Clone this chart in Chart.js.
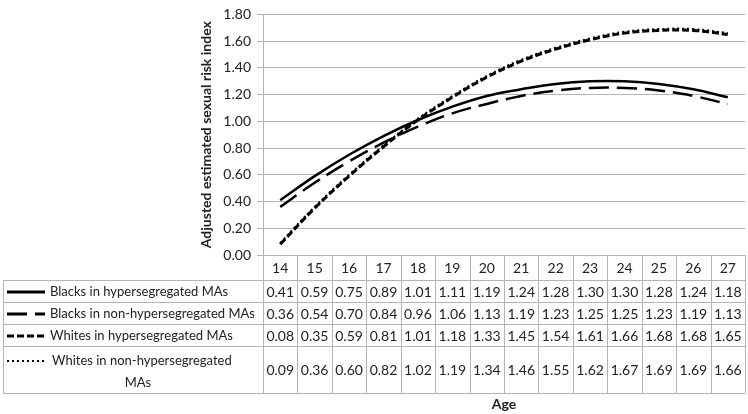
<!DOCTYPE html>
<html>
<head>
<meta charset="utf-8">
<script src="https://cdn.jsdelivr.net/npm/chart.js@4.4.1/dist/chart.umd.min.js"></script>
<style>
  html, body { margin: 0; padding: 0; background: #fff; }
  #wrap { width: 748px; height: 414px; position: relative; }
</style>
</head>
<body>
<div id="wrap"><canvas id="myChart"></canvas></div>
<script>
'use strict';

// ages along the bottom
const ages = ['14', '15', '16', '17', '18', '19', '20', '21', '22', '23', '24', '25', '26', '27'];
// series names (legend column of the table)
const seriesNames = ['Blacks in hypersegregated MAs', 'Blacks in non-hypersegregated MAs', 'Whites in hypersegregated MAs', 'Whites in non-hypersegregated MAs'];
const blacksHyper = [0.41, 0.59, 0.75, 0.89, 1.01, 1.11, 1.19, 1.24, 1.28, 1.30, 1.30, 1.28, 1.24, 1.18];
const blacksNonHyper = [0.36, 0.54, 0.70, 0.84, 0.96, 1.06, 1.13, 1.19, 1.23, 1.25, 1.25, 1.23, 1.19, 1.13];
const whitesHyper = [0.08, 0.35, 0.59, 0.81, 1.01, 1.18, 1.33, 1.45, 1.54, 1.61, 1.66, 1.68, 1.68, 1.65];
const whitesNonHyper = [0.09, 0.36, 0.60, 0.82, 1.02, 1.19, 1.34, 1.46, 1.55, 1.62, 1.67, 1.69, 1.69, 1.66];
// y axis ticks
const yMin = 0;
const yMax = 1.8;
const yStep = 0.2;

const allSeries = [blacksHyper, blacksNonHyper, whitesHyper, whitesNonHyper];
const dashes = [[], [20, 8], [7, 3], [2, 3]];
const widths = [2.5, 2.5, 3, 2];

const fontName = 'Lato, "Open Sans", sans-serif';
const gridColor = '#b4b4b4';

// draws the data table under the plot, using the x scale for the columns
const tablePlugin = {
  id: 'dataTable',
  afterDraw(chart) {
    const ctx = chart.ctx;
    const area = chart.chartArea;
    const x = chart.scales.x;
    const colW = x.getPixelForValue(1) - x.getPixelForValue(0);
    const tableLeft = 3;
    const top = area.bottom;
    const rowH = [25, 22, 22, 22, 47];
    let rowTops = [top];
    for (let i = 0; i < rowH.length; i++) rowTops.push(rowTops[i] + rowH[i]);
    const bottom = rowTops[rowTops.length - 1];

    ctx.save();
    ctx.strokeStyle = gridColor;
    ctx.lineWidth = 1;
    ctx.beginPath();
    // horizontal lines
    for (let r = 1; r < rowTops.length; r++) {
      ctx.moveTo(tableLeft, Math.round(rowTops[r]) + 0.5);
      ctx.lineTo(area.right, Math.round(rowTops[r]) + 0.5);
    }
    // vertical lines of the value columns
    for (let c = 0; c <= ages.length; c++) {
      const px = Math.round(area.left + c * colW) + 0.5;
      ctx.moveTo(px, top);
      ctx.lineTo(px, bottom);
    }
    // left edge of the legend column
    ctx.moveTo(tableLeft + 0.5, rowTops[1]);
    ctx.lineTo(tableLeft + 0.5, bottom);
    ctx.stroke();

    // legend font size: fit the longest name into the legend column
    ctx.font = '20px ' + fontName;
    const longest = ctx.measureText(seriesNames[1]).width;
    const legendSize = Math.min(15, 20 * 205 / longest);

    ctx.fillStyle = '#222';
    ctx.textAlign = 'center';
    ctx.textBaseline = 'middle';
    ctx.font = '14px ' + fontName;
    // header: ages
    for (let c = 0; c < ages.length; c++) {
      ctx.fillText(ages[c], x.getPixelForValue(c), (rowTops[0] + rowTops[1]) / 2 + 1);
    }
    // rows
    for (let s = 0; s < allSeries.length; s++) {
      const cy = (rowTops[s + 1] + rowTops[s + 2]) / 2 + 1;
      ctx.font = '14px ' + fontName;
      ctx.textAlign = 'center';
      for (let c = 0; c < ages.length; c++) {
        ctx.fillText(allSeries[s][c].toFixed(2), x.getPixelForValue(c), cy);
      }
      // legend sample
      let ly = cy;
      let name = seriesNames[s];
      let textX = 50;
      if (s === 3) {
        ly = cy - 10;
      }
      ctx.save();
      ctx.strokeStyle = '#000';
      ctx.lineWidth = s === 3 ? 2 : 3;
      ctx.setLineDash(dashes[s]);
      ctx.beginPath();
      ctx.moveTo(7, Math.round(ly));
      ctx.lineTo(45, Math.round(ly));
      ctx.stroke();
      ctx.restore();
      ctx.font = legendSize.toFixed(2) + 'px ' + fontName;
      ctx.textAlign = 'left';
      if (s === 3) {
        const words = name.split(' ');
        const last = words.pop();
        ctx.fillText(words.join(' '), textX + 2, cy - 10);
        ctx.textAlign = 'center';
        ctx.fillText(last, 138, cy + 12);
      } else {
        ctx.fillText(name, textX, cy);
      }
    }
    ctx.restore();
  }
};

const ctx = document.getElementById('myChart').getContext('2d');
const myChart = new Chart(ctx, {
  type: 'line',
  data: {
    labels: ages,
    datasets: allSeries.map((vals, i) => ({
      label: seriesNames[i],
      data: vals,
      borderColor: '#000',
      borderWidth: widths[i],
      borderDash: dashes[i],
      pointRadius: 0,
      tension: 0.4,
      fill: false
    }))
  },
  options: {
    responsive: true,
    maintainAspectRatio: false,
    animation: false,
    layout: { padding: { left: 194, top: 6, right: 3, bottom: 0 } },
    plugins: {
      legend: { display: false },
      tooltip: { enabled: false }
    },
    scales: {
      x: {
        offset: true,
        grid: { display: false },
        border: { display: false },
        ticks: { display: false },
        title: {
          display: true,
          text: 'Age',
          color: '#222',
          font: { family: fontName, size: 14, weight: 'bold' },
          padding: { top: 0, bottom: 1 }
        },
        afterFit(scale) { scale.height = 159; }
      },
      y: {
        min: yMin,
        max: yMax,
        ticks: {
          stepSize: yStep,
          color: '#222',
          padding: 6,
          font: { family: fontName, size: 14 },
          callback: (v) => Number(v).toFixed(2)
        },
        grid: { color: gridColor, tickLength: 6 },
        border: { color: gridColor },
        title: {
          display: true,
          text: 'Adjusted estimated sexual risk index',
          color: '#222',
          font: { family: fontName, size: 14, weight: 'bold' },
          padding: 4
        },
        afterFit(scale) { scale.width = 69; }
      }
    }
  },
  plugins: [tablePlugin]
});
</script>
</body>
</html>
